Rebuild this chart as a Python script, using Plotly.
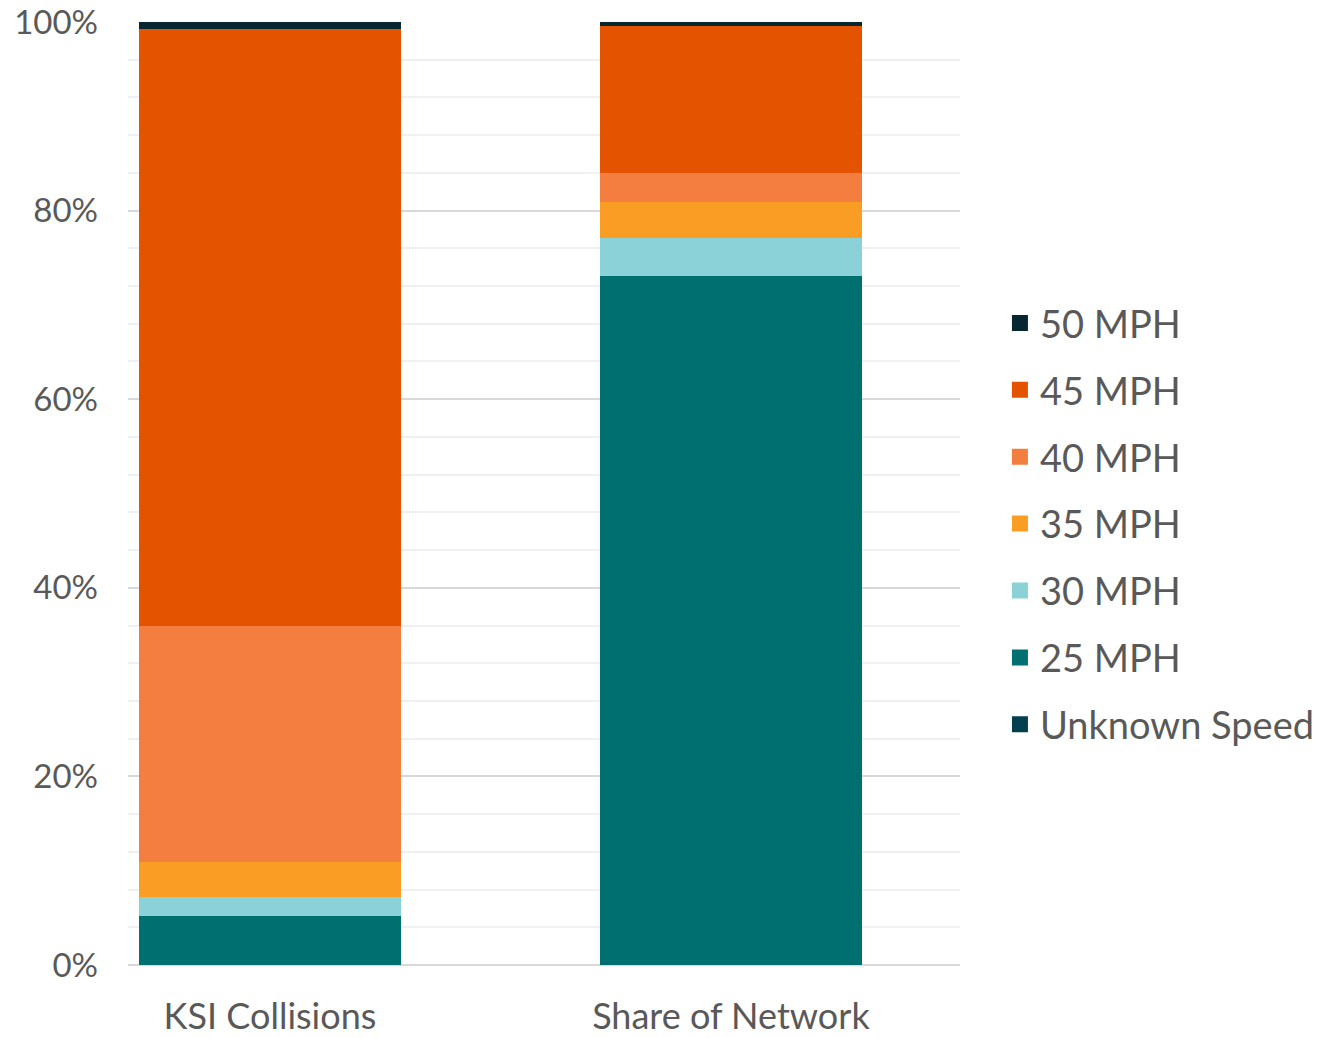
import plotly.graph_objects as go

categories = ["KSI Collisions", "Share of Network"]
series_names = ["Unknown Speed", "25 MPH", "30 MPH", "35 MPH", "40 MPH", "45 MPH", "50 MPH"]
unknown_speed = [0.0, 0.0]
mph25 = [5.2, 73.1]
mph30 = [2.0, 4.0]
mph35 = [3.7, 3.8]
mph40 = [25.1, 3.1]
mph45 = [63.3, 15.6]
mph50 = [0.7, 0.4]
series_values = [unknown_speed, mph25, mph30, mph35, mph40, mph45, mph50]
colors = ["#033f4f", "#006f6f", "#8bd1d8", "#f99d25", "#f37e3f", "#e45300", "#062631"]

FONT = "Lato, 'Open Sans', sans-serif"
TXT = "#595959"

fig = go.Figure()
for name, vals, col in zip(series_names, series_values, colors):
    fig.add_trace(go.Bar(
        x=[0, 1], y=[v / 100 for v in vals], name=name,
        marker=dict(color=col, line=dict(width=0)),
        width=0.569, showlegend=False,
    ))
# legend entries, top entry = top of stack
for name, col in reversed(list(zip(series_names, colors))):
    fig.add_trace(go.Scatter(
        x=[None], y=[None], mode="markers", name=name,
        marker=dict(symbol="square", size=22, color=col),
        legendgroup=name, showlegend=True,
    ))

fig.update_layout(
    barmode="stack",
    width=1332, height=1038,
    margin=dict(l=128, r=370, t=22, b=73),
    paper_bgcolor="white", plot_bgcolor="white",
    font=dict(family=FONT, color=TXT),
    bargap=0,
    legend=dict(
        traceorder="grouped", tracegroupgap=14.5,
        x=1.048, xanchor="left", y=0.468, yanchor="middle",
        font=dict(size=38, color=TXT, family=FONT),
        itemsizing="trace",
    ),
    xaxis=dict(
        range=[-0.308, 1.497], tickmode="array", tickvals=[0, 1], ticktext=categories,
        showgrid=False, zeroline=False, showline=False, automargin=False,
        tickfont=dict(size=36, color=TXT, family=FONT), ticklabelstandoff=27,
        ticklabeloverflow="allow",
    ),
    yaxis=dict(
        range=[0, 1], dtick=0.2, tick0=0, tickformat=".0%", automargin=False,
        showgrid=True, gridcolor="#d9d9d9", gridwidth=2,
        zeroline=True, zerolinecolor="#d9d9d9", zerolinewidth=2,
        minor=dict(dtick=0.04, showgrid=True, gridcolor="#f0f0f0", gridwidth=1.5),
        tickfont=dict(size=33, color=TXT, family=FONT), ticklabelstandoff=29,
        ticklabeloverflow="allow",
        showline=False,
    ),
)

fig.write_html("out.html", config={"displayModeBar": False},
               post_script="document.body.style.margin='0';document.body.style.padding='0';")
